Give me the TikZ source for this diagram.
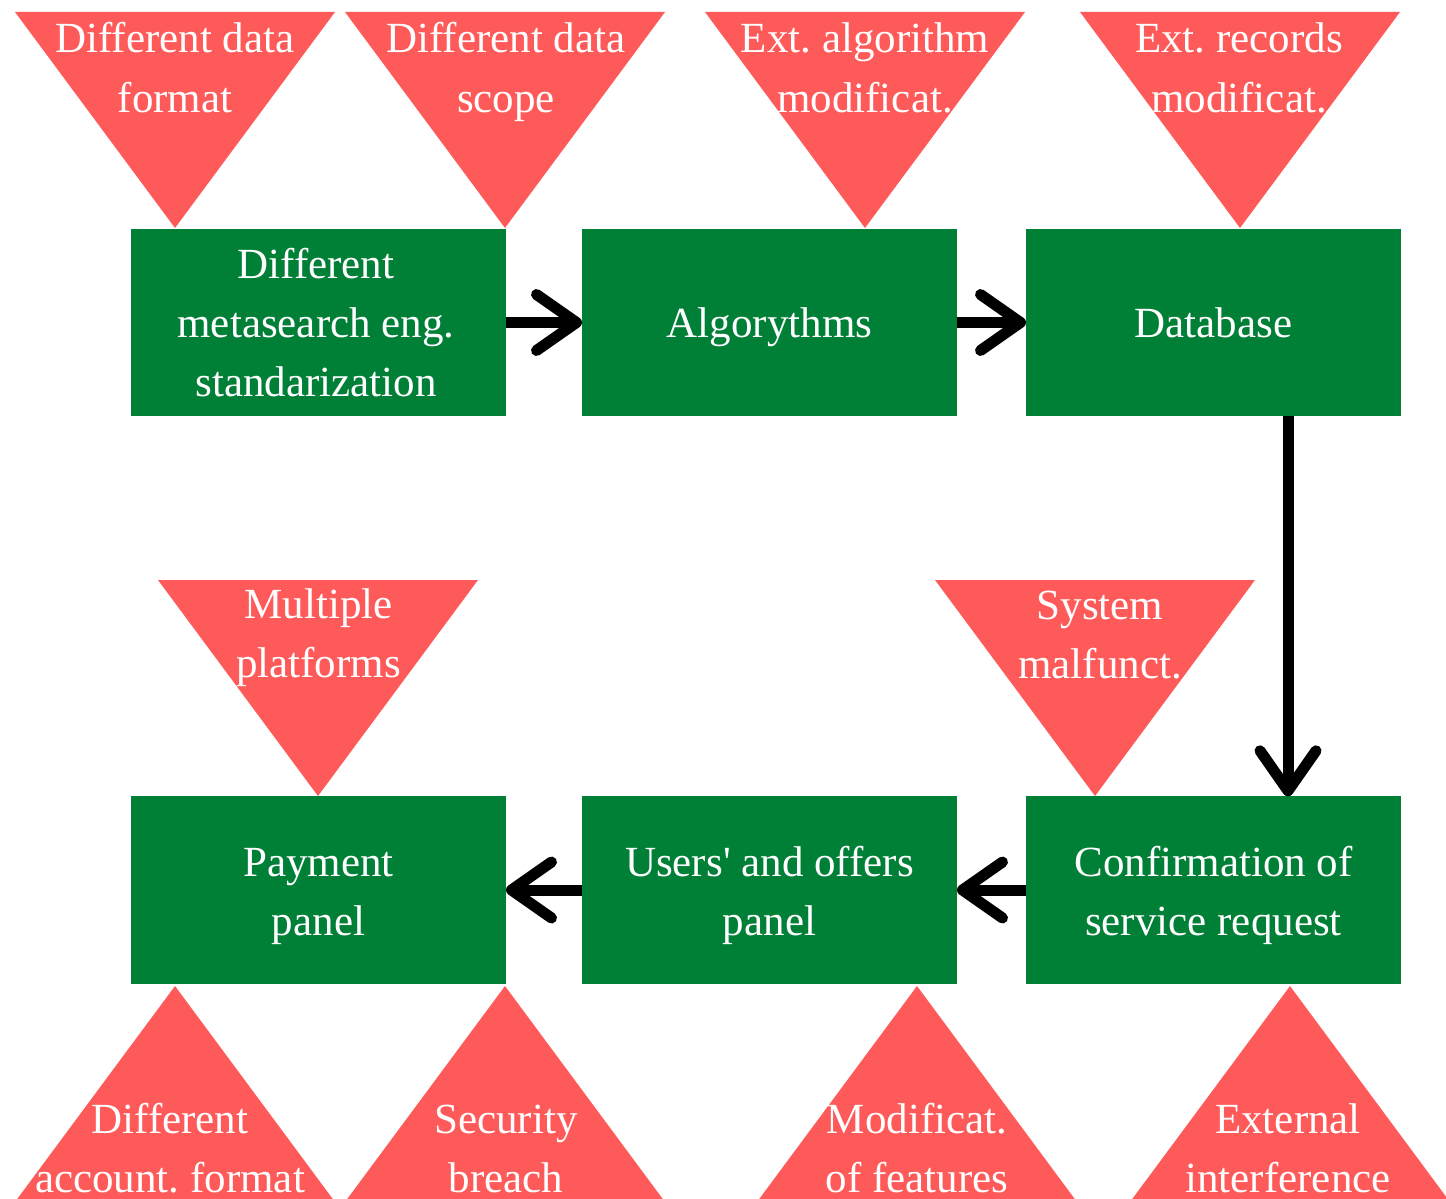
\documentclass[tikz,border=0pt]{standalone}
\usepackage{fontspec}
\setmainfont{Liberation Serif}
\usetikzlibrary{arrows.meta}
\definecolor{boxgreen}{HTML}{007F37}
\definecolor{trired}{HTML}{FF5A5A}
\frenchspacing
\begin{document}
\begin{tikzpicture}[x=1pt,y=-1pt,
  box/.style={fill=boxgreen, draw=none, minimum width=375pt, minimum height=187.5pt, inner sep=0pt, outer sep=0pt},
  lbl/.style={text=white, font=\fontsize{43}{59}\selectfont\frenchspacing, align=center, anchor=base, inner sep=0pt},
  flow/.style={draw=black, line width=11pt, -{Straight Barb[length=40pt,width=56pt,round]}},
  tri/.style={fill=trired}
]
\useasboundingbox (0,0) rectangle (1446,1199);
\clip (0,0) rectangle (1446,1199);

% warning triangles (pointing down)
\fill[tri] (15,12) -- (335,12) -- (175,228) -- cycle;
\fill[tri] (345,12) -- (665,12) -- (505,228) -- cycle;
\fill[tri] (705,12) -- (1025,12) -- (865,228) -- cycle;
\fill[tri] (1080,12) -- (1400,12) -- (1240,228) -- cycle;
\fill[tri] (158,580) -- (478,580) -- (318,796) -- cycle;
\fill[tri] (935,580) -- (1255,580) -- (1095,796) -- cycle;
% warning triangles (pointing up)
\fill[tri] (175,986) -- (335,1202) -- (15,1202) -- cycle;
\fill[tri] (505,986) -- (665,1202) -- (345,1202) -- cycle;
\fill[tri] (917,986) -- (1077,1202) -- (757,1202) -- cycle;
\fill[tri] (1290,986) -- (1450,1202) -- (1130,1202) -- cycle;

% process boxes
\node[box] (b1) at (318.5,322.5) {};
\node[box] (b2) at (769.5,322.5) {};
\node[box] (b3) at (1213.5,322.5) {};
\node[box] (b4) at (318.5,890) {};
\node[box] (b5) at (769.5,890) {};
\node[box] (b6) at (1213.5,890) {};

% box labels (anchor = baseline of last line)
\node[lbl] (l1) at (316,396) {Different\\metasearch eng.\\standarization};
\node[lbl] (l2) at (769.5,337) {Algorythms};
\node[lbl] (l3) at (1213.5,337) {Database};
\node[lbl] (l4) at (318.5,935) {Payment\\panel};
\node[lbl] (l5) at (769.5,935) {Users\textquotesingle{} and offers\\panel};
\node[lbl] (l6) at (1213.5,935) {Confirmation of\\service request};

% triangle labels
\node[lbl] (r1) at (175,112) {Different data\\format};
\node[lbl] (r2) at (506,112) {Different data\\scope};
\node[lbl] (r3) at (865,112) {Ext. algorithm\\modificat.};
\node[lbl] (r4) at (1239,112) {Ext. records\\modificat.};
\node[lbl] (r5) at (318.5,677) {Multiple\\platforms};
\node[lbl] (r6) at (1100,678) {System\\malfunct.};
\node[lbl] (r7) at (170,1192) {Different\\account. format};
\node[lbl] (r8) at (506,1192) {Security\\breach};
\node[lbl] (r9) at (917,1192) {Modificat.\\of features};
\node[lbl] (r10) at (1288,1192) {External\\interference};

% connectors
\coordinate (vx) at (1288,0);
\draw[flow] (b1.east) -- (b2.west);
\draw[flow] (b2.east) -- (b3.west);
\draw[flow] (b3.south -| vx) -- (b6.north -| vx);
\draw[flow] (b6.west) -- (b5.east);
\draw[flow] (b5.west) -- (b4.east);
\end{tikzpicture}
\end{document}
